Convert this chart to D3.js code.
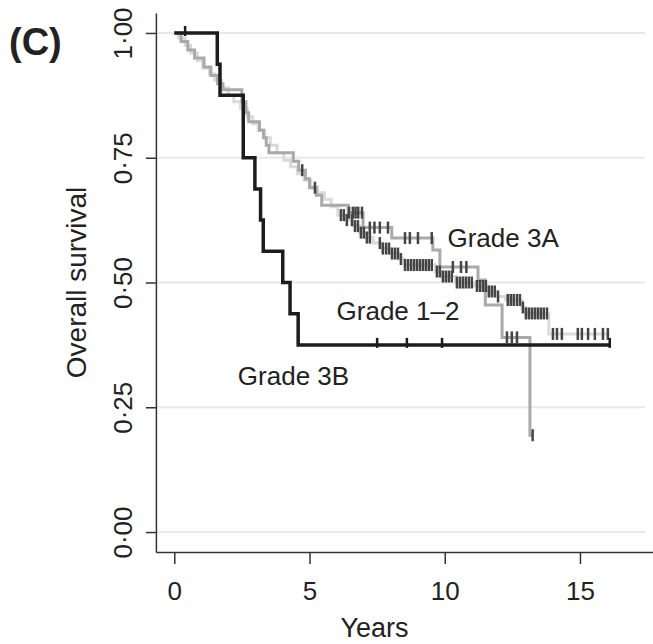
<!DOCTYPE html>
<html><head><meta charset="utf-8">
<script src="https://cdn.jsdelivr.net/npm/d3@7"></script>
<style>body{margin:0;background:#fff;} svg{display:block;font-family:"Liberation Sans",Arial,sans-serif;}</style>
</head><body><svg id="chart" width="653" height="644"></svg>
<script>
// ---- data ----
const xTickValues = [0, 5, 10, 15];
const yTickValues = [0, 0.25, 0.5, 0.75, 1];
const yTickLabels = ["0·00", "0·25", "0·50", "0·75", "1·00"];
const seriesNames = ["Grade 1–2", "Grade 3A", "Grade 3B"];

// Grade 1-2 (event times, survival after event)
const g12Times = [0.15,0.4,0.6,0.85,1.05,1.3,1.5,1.75,2.0,2.2,2.45,2.7,2.9,3.1,3.35,3.55,3.8,4.05,4.3,4.55,4.8,5.05,5.3,5.55,5.8,6.05,6.35,6.6,6.85,7.1,7.35,7.7,8.0,8.3,8.5,9.65,9.9,10.4,11.1,11.6,11.9,12.25,12.85,13.0,13.85];
const g12Surv  = [0.99,0.975,0.96,0.945,0.93,0.918,0.905,0.89,0.875,0.862,0.848,0.832,0.818,0.805,0.79,0.775,0.76,0.745,0.732,0.718,0.705,0.692,0.68,0.667,0.652,0.635,0.625,0.613,0.6,0.59,0.579,0.568,0.558,0.547,0.535,0.522,0.512,0.5,0.493,0.482,0.472,0.465,0.45,0.438,0.397];
const g12Censor = [6.16,6.27,6.38,6.57,6.68,6.79,6.9,7.01,7.12,7.23,7.6,7.71,7.83,7.94,8.05,8.16,8.27,8.38,8.53,8.64,8.75,8.86,8.97,9.08,9.19,9.3,9.41,9.52,9.71,9.82,9.93,10.04,10.15,10.26,10.45,10.56,10.67,10.78,10.89,11.0,11.19,11.3,11.41,11.52,11.63,11.74,11.85,11.97,12.33,12.44,12.55,12.67,12.78,12.89,13.0,13.11,13.22,13.33,13.44,13.55,13.66,13.78,14.0,14.15,14.33,14.92,15.07,15.3,15.55,15.85,16.03];
const g12End = 16.1;

// Grade 3A
const g3aTimes = [0.25,0.5,0.75,1.1,1.35,1.6,1.8,2.5,2.65,2.75,3.15,3.3,3.4,3.5,4.4,4.6,4.85,5.0,5.25,5.45,6.43,6.98,8.04,9.56,9.82,11.23,11.5,12.12,13.15];
const g3aSurv  = [0.983,0.966,0.95,0.932,0.915,0.898,0.886,0.862,0.84,0.822,0.805,0.79,0.775,0.76,0.743,0.725,0.708,0.69,0.675,0.655,0.64,0.61,0.589,0.565,0.531,0.505,0.455,0.39,0.194];
const g3aCensor = [4.73,5.2,6.46,6.6,6.7,6.8,6.94,7.23,7.4,7.6,7.9,8.53,8.71,9.01,9.52,10.3,10.6,10.8,12.3,12.48,12.67,13.25];
const g3aEnd = 13.25;

// Grade 3B
const g3bTimes = [1.59,1.69,2.55,2.98,3.19,3.29,4.01,4.28,4.58];
const g3bSurv  = [0.9375,0.875,0.75,0.6875,0.625,0.5625,0.5,0.4375,0.375];
const g3bCensor = [0.4,7.5,8.6,9.9,16.1];
const g3bEnd = 16.1;

// ---- chart ----
const svg = d3.select("#chart");
const x = d3.scaleLinear().domain([-0.68, 17.7]).range([155.9, 653]);
const y = d3.scaleLinear().domain([-0.04, 1.04]).range([552, 13]);

// gridlines
svg.append("g").selectAll("line").data(yTickValues).join("line")
  .attr("x1", x(-0.68)).attr("x2", 645)
  .attr("y1", d => y(d)).attr("y2", d => y(d))
  .attr("stroke", "#e8e8e8").attr("stroke-width", 2);

// axes
const yAxis = svg.append("g").attr("transform", `translate(${x(-0.68)},0)`)
  .call(d3.axisLeft(y).tickValues(yTickValues).tickSize(10).tickSizeOuter(0).tickFormat((d,i)=>yTickLabels[i]));
yAxis.selectAll("text").attr("transform", "translate(-6,0) rotate(-90)")
  .attr("x", 0).attr("dx", 0).attr("dy", 0).attr("y", -18)
  .attr("text-anchor", "middle");
const xAxis = svg.append("g").attr("transform", `translate(0,${y(-0.04)})`)
  .call(d3.axisBottom(x).tickValues(xTickValues).tickSize(12).tickSizeOuter(0).tickFormat(d3.format("d")));
xAxis.selectAll("text").attr("y", 0).attr("dy", 0).attr("transform", "translate(0,48)");
[yAxis, xAxis].forEach(a => {
  a.select(".domain").attr("stroke", "#333").attr("stroke-width", 1.5);
  a.selectAll(".tick line").attr("stroke", "#333").attr("stroke-width", 1.5);
  a.selectAll("text").attr("font-size", 26).attr("fill", "#222").attr("font-family", "Liberation Sans, Arial, sans-serif");
});

// axis titles
svg.append("text").attr("x", x(7.4)).attr("y", 637).attr("text-anchor", "middle")
  .attr("font-size", 27).attr("fill", "#222").text("Years");
svg.append("text").attr("transform", `translate(86,${y(0.5)}) rotate(-90)`).attr("text-anchor", "middle")
  .attr("font-size", 28).attr("fill", "#222").text("Overall survival");
svg.append("text").attr("x", 9).attr("y", 55).attr("font-size", 38).attr("font-weight", "bold").attr("fill", "#222").text("(C)");

// KM curves
function stepPoints(times, surv, end){
  const pts = [[0,1]];
  times.forEach((t,i)=>pts.push([t, surv[i]]));
  pts.push([end, surv[surv.length-1]]);
  return pts;
}
function survAt(times, surv, t){
  let s = 1;
  for (let i=0;i<times.length;i++){ if (times[i] <= t) s = surv[i]; }
  return s;
}
const line = d3.line().x(d=>x(d[0])).y(d=>y(d[1])).curve(d3.curveStepAfter);
const series = [
  {name: seriesNames[0], times: g12Times, surv: g12Surv, censor: g12Censor, end: g12End, color: "#dadada", tick: "#444", w: 3, up: 6, down: 6},
  {name: seriesNames[1], times: g3aTimes, surv: g3aSurv, censor: g3aCensor, end: g3aEnd, color: "#a9a9a9", tick: "#444", w: 3, up: 6, down: 6},
  {name: seriesNames[2], times: g3bTimes, surv: g3bSurv, censor: g3bCensor, end: g3bEnd, color: "#1c1c1c", tick: "#1c1c1c", w: 3.5, up: 7, down: 3}
];
series.forEach(s => {
  svg.append("path").datum(stepPoints(s.times, s.surv, s.end))
    .attr("d", line).attr("fill", "none").attr("stroke", s.color).attr("stroke-width", s.w);
});
series.forEach(s => {
  svg.append("g").selectAll("line").data(s.censor).join("line")
    .attr("x1", d=>x(d)).attr("x2", d=>x(d))
    .attr("y1", d=>y(survAt(s.times, s.surv, d))-s.up).attr("y2", d=>y(survAt(s.times, s.surv, d))+s.down)
    .attr("stroke", s.tick).attr("stroke-width", 2.5);
});

// series labels
const labelPos = [[6.0, 0.425], [10.1, 0.571], [2.35, 0.295]];
svg.append("g").selectAll("text").data(seriesNames).join("text")
  .attr("x", (d,i)=>x(labelPos[i][0])).attr("y", (d,i)=>y(labelPos[i][1]))
  .attr("font-size", 26).attr("fill", "#222").text(d=>d);
</script></body></html>
